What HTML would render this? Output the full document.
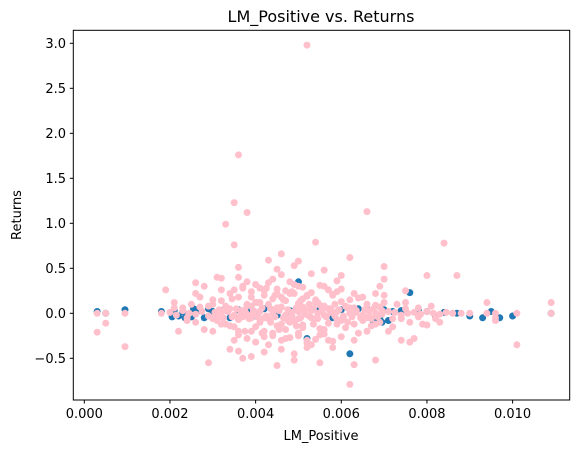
<!DOCTYPE html>
<html><head><meta charset="utf-8"><style>
html,body{margin:0;padding:0;background:#fff;}
svg{display:block;font-family:"DejaVu Sans","Liberation Sans",sans-serif;}
</style></head><body>
<svg id="chart" width="579" height="453" viewBox="0 0 579 453">
<text x="321" y="22" font-size="16" text-anchor="middle" fill="#000">LM_Positive vs. Returns</text>
<g id="plot"></g>
<rect x="73.3" y="30.3" width="496.4" height="369.7" fill="none" stroke="#000" stroke-width="1"/>
<g id="xticks"></g>
<g id="yticks"></g>
<text x="321" y="440" font-size="13" text-anchor="middle">LM_Positive</text>
<text x="0" y="0" font-size="13" text-anchor="middle" transform="translate(21,215) rotate(-90)">Returns</text>
</svg>
<script>
// x values in units of 0.001
const xTickValues = [0, 2, 4, 6, 8, 10];
const xTickLabels = ["0.000","0.002","0.004","0.006","0.008","0.010"];
const yTickValues = [-0.5, 0, 0.5, 1.0, 1.5, 2.0, 2.5, 3.0];
const yTickLabels = ["\u22120.5","0.0","0.5","1.0","1.5","2.0","2.5","3.0"];

const xBlue = [0.3,0.5,0.95,1.8,2.1,2.2,2.3,2.5,2.6,2.7,2.8,2.9,3.0,3.2,3.4,3.6,3.8,4.0,4.2,4.5,4.8,5.0,5.2,5.5,5.8,6.0,6.2,6.4,6.6,6.8,6.9,7.0,7.1,7.2,7.4,7.6,7.8,8.0,8.2,8.4,8.7,9.0,9.3,9.5,9.7,10.0,10.9,2.05,2.35,2.55,6.75,6.85,6.95];
const yBlue = [0.02,0,0.04,0.02,0.03,-0.03,0.02,-0.04,0.04,0.03,-0.05,0.05,0.02,0.03,-0.05,0.04,0.02,-0.03,0.05,-0.02,0.03,0.35,-0.28,0.05,-0.05,0.04,-0.45,0.05,0.05,-0.07,-0.06,0.04,-0.08,0.02,0.03,0.23,0.03,0.02,-0.03,0.01,0,-0.03,-0.05,0.02,-0.05,-0.03,0,-0.04,-0.05,0.05,-0.09,-0.08,-0.1];

const xPink = [5.2,3.6,3.5,3.8,6.6,3.3,3.5,5.4,8.4,4.6,6.2,4.3,5.0,4.9,7.0,3.6,4.5,5.6,8.0,8.7,7.0,4.6,5.3,3.6,3.1,3.2,2.6,1.9,6.0,7.5,
6.2,6.3,5.5,3.7,6.8,2.9,4.9,4.5,3.9,10.1,0.95,0.3,0.5,9.6,7.6,7.4,3.4,4.2,5.2,5.8,
2.0,2.15,2.3,2.45,2.6,2.75,2.9,3.05,3.2,3.35,3.5,3.65,3.8,3.95,4.1,4.25,4.4,4.55,4.7,4.85,5.0,5.15,5.3,5.45,5.6,5.75,5.9,6.05,6.2,6.35,6.5,6.65,6.8,6.95,7.1,7.25,7.4,7.55,7.7,7.85,8.0,8.15,8.3,8.45,
2.1,2.4,2.7,3.0,3.3,3.6,3.9,4.2,4.5,4.8,5.1,5.4,5.7,6.0,6.3,6.6,6.9,7.2,7.5,7.8,
3.0,3.2,3.4,3.6,3.8,4.0,4.2,4.4,4.6,4.8,5.0,5.2,5.4,5.6,5.8,6.0,6.2,6.4,6.6,6.8,7.0,7.2,
3.1,3.3,3.5,3.7,3.9,4.1,4.3,4.5,4.7,4.9,5.1,5.3,5.5,5.7,5.9,6.1,6.3,6.5,6.7,6.9,7.1,
2.5,2.6,2.7,2.8,2.9,2.4,2.3,2.2,2.1,7.3,7.4,7.5,7.6,7.8,7.9,8.1,8.2,
4.0,4.4,4.8,5.0,4.6,4.2,3.8,5.6,5.9,6.3,3.6,4.9,5.3,5.7,6.0,4.5,4.7,5.1,5.2,4.3,4.6,4.4,5.0,5.5,3.9,4.1,3.4,3.2,6.6,6.8,3.0,2.8,2.6,
4.05,4.35,4.65,4.95,5.25,5.55,4.15,4.45,4.75,5.05,5.35,3.75,3.45,5.85,6.15,4.25,4.55,4.85,5.45,
0.3,0.5,0.95,1.8,8.6,8.8,9.0,9.4,9.6,10.1,10.9,10.9,9.4,9.6,8.3,8.0,7.7,
3.0,3.1,3.2,3.3,3.4,3.5,3.6,3.7,3.8,3.9,4.0,4.1,4.2,4.3,4.4,4.5,4.6,4.7,4.8,4.9,5.0,5.1,5.2,5.3,5.4,5.5,5.6,5.7,5.8,5.9,6.0,6.1,6.2,6.3,6.4,6.5,6.6,6.7,6.8,6.9,7.0,
3.05,3.15,3.25,3.35,3.45,3.55,3.65,3.75,3.85,3.95,4.05,4.15,4.25,4.35,4.45,4.55,4.65,4.75,4.85,4.95,5.05,5.15,5.25,5.35,5.45,5.55,5.65,5.75,5.85,5.95,6.05,6.15,6.25,6.35,6.45,6.55,6.65,6.75,6.85,6.95,
3.5,3.6,3.7,3.8,3.9,4.0,4.1,4.2,4.3,4.4,4.5,4.6,4.7,4.8,4.9,5.0,5.1,5.2,5.3,5.4,5.5,5.6,5.7,5.8,5.9,6.0];
const yPink = [2.98,1.76,1.23,1.12,1.13,0.99,0.76,0.79,0.78,0.66,0.62,0.59,0.58,0.53,0.52,0.51,0.49,0.48,0.42,0.42,0.38,0.43,0.44,0.40,0.40,0.39,0.34,0.26,0.27,0.25,
-0.79,-0.57,-0.55,-0.50,-0.52,-0.55,-0.52,-0.58,-0.48,-0.35,-0.37,-0.21,-0.11,-0.08,-0.32,-0.30,-0.40,-0.43,-0.38,-0.38,
0.01,-0.02,0.03,0,-0.01,0.02,-0.03,0.01,0,0.02,-0.02,0.03,-0.01,0.01,0.02,-0.03,0,0.03,-0.02,0.01,0.02,-0.01,0.03,0,-0.02,0.01,0.02,-0.03,0,0.01,-0.02,0.03,0,-0.01,0.02,0.01,-0.02,0,0.01,-0.01,0.02,0,-0.01,0.01,
0.06,-0.05,0.07,-0.06,0.05,-0.07,0.08,-0.05,0.06,-0.08,0.07,-0.06,0.05,-0.07,0.06,-0.05,0.07,-0.06,0.05,-0.04,
0.15,-0.12,0.22,-0.2,0.1,-0.15,0.25,-0.25,0.18,-0.1,0.3,-0.3,0.12,-0.18,0.2,-0.08,0.15,-0.22,0.1,-0.12,0.2,-0.15,
-0.06,0.08,-0.3,0.28,-0.05,0.12,-0.35,0.06,-0.28,0.22,-0.16,0.05,-0.24,0.26,-0.12,0.08,-0.3,0.18,-0.06,0.3,-0.2,
0.1,-0.1,0.18,-0.18,0.08,-0.08,0.06,-0.2,0.12,0.1,-0.06,0.12,-0.1,0.06,-0.12,0.08,-0.06,
0.32,0.38,0.35,-0.22,-0.4,-0.2,0.35,0.3,0.36,0.22,-0.42,-0.45,-0.35,-0.3,0.42,0.22,0.14,0.16,0.2,0.1,-0.12,0.04,-0.06,0.09,0.18,-0.1,-0.14,0.26,-0.2,0.22,-0.2,0.3,0.22,
0.12,-0.1,0.15,-0.14,0.1,-0.18,-0.22,0.2,-0.08,0.14,-0.12,-0.2,0.16,0.1,-0.1,0.28,-0.18,0.24,0.12,
0,0,0,0,0,0,0,0,0,0,0,0.12,0.12,-0.05,-0.1,-0.13,-0.28,
0.1,-0.08,0.14,-0.12,0.05,-0.15,0.18,-0.04,0.09,-0.2,0.12,-0.1,0.2,-0.06,0.16,-0.14,0.07,-0.18,0.22,-0.09,0.11,-0.13,0.19,-0.05,0.15,-0.17,0.08,-0.11,0.21,-0.07,0.13,-0.16,0.06,-0.12,0.17,-0.08,0.1,-0.14,0.09,-0.1,0.12,
-0.03,0.04,-0.05,0.03,-0.04,0.05,-0.02,0.04,-0.06,0.03,-0.04,0.06,-0.03,0.05,-0.04,0.03,-0.05,0.04,-0.03,0.06,-0.05,0.04,-0.03,0.05,-0.06,0.03,-0.04,0.05,-0.03,0.04,-0.05,0.06,-0.04,0.03,-0.05,0.04,-0.03,0.05,-0.04,0.03,
0.26,-0.24,0.3,-0.28,0.24,-0.32,0.28,-0.26,0.34,-0.22,0.27,-0.3,0.25,-0.27,0.32,-0.25,0.29,-0.33,0.23,-0.29,0.31,-0.23,0.26,-0.31,0.24,-0.26];

const X0=84.3, XPER=42.83, Y0=313.3, YPER=90;
function xScale(v){return X0+v*XPER;}
function yScale(v){return Y0-v*YPER;}
const NS="http://www.w3.org/2000/svg";
const plot=document.getElementById('plot');
function dots(xs,ys,color,name){
  for(let i=0;i<xs.length;i++){
    const c=document.createElementNS(NS,'circle');
    c.setAttribute('cx',xScale(xs[i]));
    c.setAttribute('cy',yScale(ys[i]));
    c.setAttribute('r',3.5);
    c.setAttribute('fill',color);
    
    
    plot.appendChild(c);
  }
}
dots(xBlue,yBlue,'#1f77b4','blue-point');
dots(xPink,yPink,'#ffc0cb','pink-point');

const xg=document.getElementById('xticks');
xTickValues.forEach((v,i)=>{
  const x=xScale(v);
  const l=document.createElementNS(NS,'line');
  l.setAttribute('x1',x);l.setAttribute('x2',x);l.setAttribute('y1',400);l.setAttribute('y2',403.5);l.setAttribute('stroke','#000');
  
  
  xg.appendChild(l);
  const t=document.createElementNS(NS,'text');
  t.setAttribute('x',x);t.setAttribute('y',418);t.setAttribute('font-size','13');t.setAttribute('text-anchor','middle');
  t.textContent=xTickLabels[i];
  
  
  xg.appendChild(t);
});
const yg=document.getElementById('yticks');
yTickValues.forEach((v,i)=>{
  const y=yScale(v);
  const l=document.createElementNS(NS,'line');
  l.setAttribute('x1',69.8);l.setAttribute('x2',73.3);l.setAttribute('y1',y);l.setAttribute('y2',y);l.setAttribute('stroke','#000');
  
  
  yg.appendChild(l);
  const t=document.createElementNS(NS,'text');
  t.setAttribute('x',66);t.setAttribute('y',y+4.5);t.setAttribute('font-size','13');t.setAttribute('text-anchor','end');
  t.textContent=yTickLabels[i];
  
  
  yg.appendChild(t);
});
</script>
</body></html>
